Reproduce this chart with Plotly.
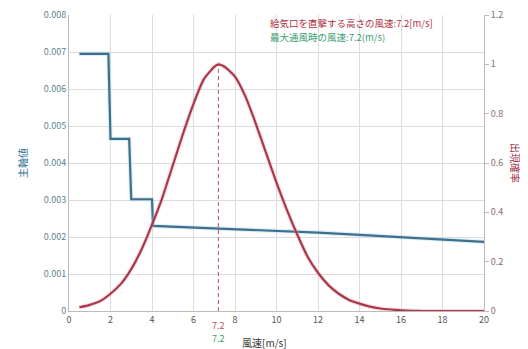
import plotly.graph_objects as go

# --- data ---
blue_x = [0.5, 1.9, 2.0, 2.9, 3.0, 4.0, 4.05, 6, 8, 10, 12, 14, 16, 18, 20]
blue_y = [0.00695, 0.00695, 0.00465, 0.00465, 0.00302, 0.00302, 0.0023, 0.00226,
          0.00222, 0.00217, 0.00212, 0.00206, 0.0020, 0.00194, 0.00187]

red_x = [0.5, 1, 1.5, 2, 2.5, 3, 3.5, 4, 4.5, 5, 5.5, 6, 6.5, 7, 7.2, 7.5, 8, 8.5, 9,
         9.5, 10, 10.5, 11, 11.5, 12, 12.5, 13, 13.5, 14, 14.5, 15, 15.5, 16, 16.5,
         17, 18, 19, 20]
red_y = [0.015, 0.025, 0.04, 0.07, 0.11, 0.17, 0.25, 0.35, 0.46, 0.59, 0.72, 0.84,
         0.94, 0.99, 1.0, 0.99, 0.95, 0.87, 0.76, 0.64, 0.52, 0.41, 0.31, 0.22, 0.155,
         0.105, 0.07, 0.045, 0.03, 0.018, 0.01, 0.006, 0.003, 0.001, 0, 0, 0, 0]

peak_x = [7.2, 7.2]
peak_y = [0, 1.0]

x_ticks = [0, 2, 4, 6, 8, 10, 12, 14, 16, 18, 20]
y1_ticks = [0, 0.001, 0.002, 0.003, 0.004, 0.005, 0.006, 0.007, 0.008]
y1_labels = ["0", "0.001", "0.002", "0.003", "0.004", "0.005", "0.006", "0.007", "0.008"]
y2_ticks = [0, 0.2, 0.4, 0.6, 0.8, 1.0, 1.2]
y2_labels = ["0", "0.2", "0.4", "0.6", "0.8", "1", "1.2"]

note_red = "給気口を直撃する高さの風速:7.2[m/s]"
note_green = "最大通風時の風速:7.2(m/s)"
peak_label = "7.2"

BLUE = "#3f6f8c"
RED = "#a8384a"
GREEN = "#3aa070"
FONT = "Noto Sans CJK JP"

fig = go.Figure()

# halos
fig.add_trace(go.Scatter(x=red_x, y=red_y, yaxis="y2", mode="lines",
                         line=dict(color="rgba(235,170,180,0.35)", width=4.5, shape="spline", smoothing=0.6),
                         hoverinfo="skip", showlegend=False))
fig.add_trace(go.Scatter(x=blue_x, y=blue_y, mode="lines",
                         line=dict(color="rgba(170,215,235,0.4)", width=4.5),
                         hoverinfo="skip", showlegend=False))

fig.add_trace(go.Scatter(x=peak_x, y=peak_y, yaxis="y2", mode="lines",
                         line=dict(color="#c0506a", width=1, dash="4px,3px"),
                         showlegend=False))
fig.add_trace(go.Scatter(x=red_x, y=red_y, yaxis="y2", mode="lines",
                         line=dict(color=RED, width=2.2, shape="spline", smoothing=0.6),
                         showlegend=False))
fig.add_trace(go.Scatter(x=blue_x, y=blue_y, mode="lines",
                         line=dict(color=BLUE, width=2.2),
                         showlegend=False))

fig.update_layout(
    width=528, height=349,
    margin=dict(l=69, r=44, t=15, b=38, autoexpand=False),
    paper_bgcolor="white", plot_bgcolor="white",
    font=dict(family=FONT, size=9, color="#555"),
    xaxis=dict(range=[0, 20], tickvals=x_ticks, showgrid=True, gridcolor="#dcdcdc",
               gridwidth=1, zeroline=False, showline=True, linecolor="#bbbbbb",
               ticks="", tickfont=dict(size=9, color="#555"), automargin=False),
    yaxis=dict(range=[0, 0.008], tickvals=y1_ticks, ticktext=y1_labels, showgrid=True,
               gridcolor="#dcdcdc", zeroline=False, showline=True, linecolor="#bbbbbb",
               ticks="", tickfont=dict(size=9, color="#5a8290"), automargin=False,
               title=dict(text="主軸値", font=dict(size=10, color="#2f7394"), standoff=14)),
    yaxis2=dict(range=[0, 1.2], tickvals=y2_ticks, ticktext=y2_labels, overlaying="y",
                side="right", showgrid=False, zeroline=False, showline=True,
                linecolor="#bbbbbb", ticks="outside", ticklen=4, tickcolor="#bbbbbb",
                tickfont=dict(size=9, color="#8a6a70"), automargin=False),
)

# right axis title
fig.add_annotation(x=1.0, y=0.5, xref="paper", yref="paper", text="出現確率",
                   textangle=90, showarrow=False, xanchor="center", yanchor="middle",
                   xshift=32, font=dict(size=10, color="#a03048", family=FONT))
# x axis title
fig.add_annotation(x=0.47, y=0, xref="paper", yref="paper", text="風速[m/s]",
                   showarrow=False, xanchor="center", yanchor="top", yshift=-22,
                   font=dict(size=10, color="#333", family=FONT))

fig.add_annotation(x=0.48, y=1.0, xref="paper", yref="paper", text=note_red,
                   showarrow=False, xanchor="left", yanchor="top", yshift=1,
                   font=dict(size=9.5, color="#b03040", family=FONT))
fig.add_annotation(x=0.48, y=1.0, xref="paper", yref="paper", text=note_green,
                   showarrow=False, xanchor="left", yanchor="top", yshift=-13,
                   font=dict(size=9.5, color=GREEN, family=FONT))

fig.add_annotation(x=peak_x[0], y=0, xref="x", yref="paper", text=peak_label,
                   showarrow=False, yanchor="top", yshift=-6,
                   font=dict(size=9, color="#c05060", family=FONT))
fig.add_annotation(x=peak_x[0], y=0, xref="x", yref="paper", text=peak_label,
                   showarrow=False, yanchor="top", yshift=-19,
                   font=dict(size=9, color=GREEN, family=FONT))

fig.write_html("out.html", config={"displayModeBar": False},
               post_script="document.body.style.margin='0';document.body.style.overflow='hidden';")
